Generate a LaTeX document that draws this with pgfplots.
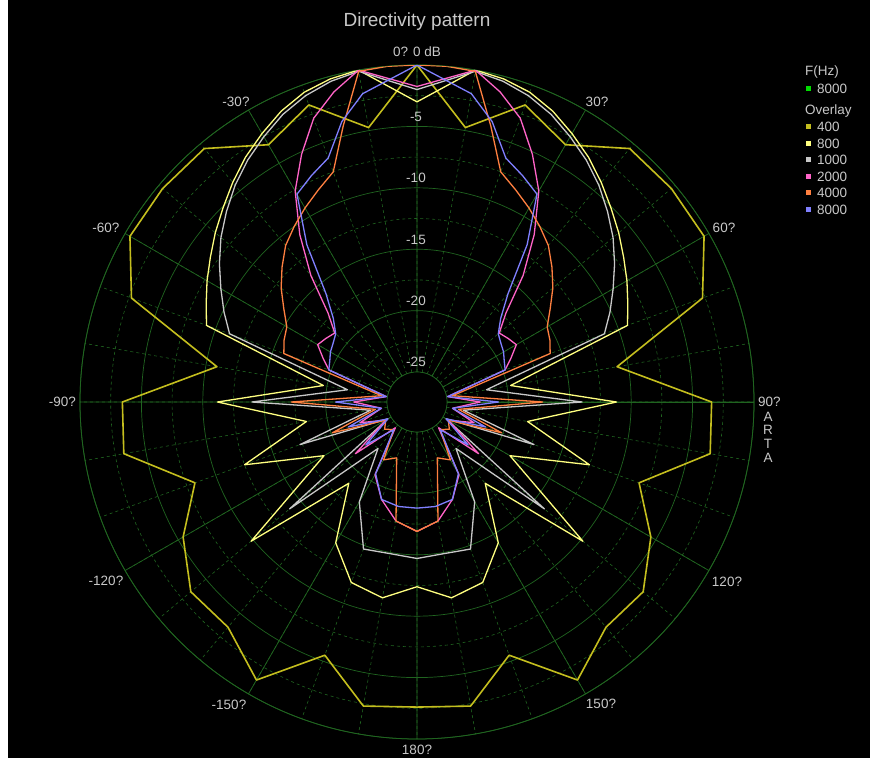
\documentclass[border=0pt]{standalone}
\usepackage{pgfplots}
\pgfplotsset{compat=1.18}
\usepackage{pgfplotstable}
\usepgfplotslibrary{polar}
\usepackage{fontspec}
\setmainfont{Liberation Sans}

\definecolor{gridgreen}{RGB}{32,100,32}
\definecolor{txtgray}{RGB}{200,200,200}
\definecolor{c400}{RGB}{196,190,30}
\definecolor{c800}{RGB}{255,255,128}
\definecolor{c1000}{RGB}{200,200,200}
\definecolor{c2000}{RGB}{255,100,200}
\definecolor{c4000}{RGB}{255,128,64}
\definecolor{c8000}{RGB}{128,128,255}
\definecolor{cnow}{RGB}{0,220,0}

% one half of each pattern (angle 0..180 deg, level in dB); drawn mirrored
\pgfplotstableread{
ang db
0   0
10  -4.75
20  -1.7
30  -3.25
40  -0.5
50  -0.4
60  -0.45
70  -2.7
80  -10.9
90  -3.45
100 -3.2
110 -8.2
120 -5.45
130 -3.4
140 -3.5
150 -1.3
160 -5.5
170 -2.3
180 -2.6
}\fA
\pgfplotstableread{
ang db
0   -3.0
10  0
15  -0.2
20  -0.6
25  -1.3
30  -2.2
35  -3.1
40  -4.1
45  -5.1
50  -6.0
55  -6.9
60  -7.7
65  -8.5
70  -9.2
80  -19.7
90  -11.2
100 -18.3
110 -12.5
120 -18.7
130 -9.8
140 -18.8
150 -14.2
160 -11.8
170 -11.25
180 -12.4
}\fB
\pgfplotstableread{
ang db
0   -2.0
10  -0.1
15  -0.4
20  -0.9
25  -1.6
30  -2.5
35  -3.4
40  -4.4
45  -5.5
50  -6.6
55  -7.8
60  -9.0
65  -10.1
70  -11.2
80  -21.7
90  -14.0
100 -23.6
110 -17.3
120 -24.7
130 -13.9
140 -22.5
150 -18.05
160 -14.7
170 -14.9
180 -14.7
}\fC
\pgfplotstableread{
ang db
0   -1.75
10  0
15  -1.3
20  -2.85
25  -5.2
30  -7.6
35  -10.8
40  -14.0
45  -17.2
50  -18.7
55  -18.4
60  -18.1
65  -19.0
70  -19.8
80  -24.9
90  -22.3
100 -24.5
110 -22.5
120 -24.5
130 -20.9
140 -24.7
150 -20.6
160 -19.0
170 -17.6
180 -16.9
}\fD
\pgfplotstableread{
ang db
0   0
5   0
10  -0.1
15  -4.2
20  -7.5
25  -8.4
30  -9.2
35  -10.0
40  -10.8
45  -11.9
50  -13.0
55  -14.2
60  -15.2
65  -15.5
70  -15.9
80  -24.5
90  -17.2
100 -24.0
110 -20.1
120 -24.5
130 -24.0
140 -24.5
150 -22.0
160 -22.6
170 -17.6
180 -16.9
}\fE
\pgfplotstableread{
ang db
0   0
10  -1.95
15  -3.8
20  -6.3
25  -7.1
30  -7.9
35  -11.8
40  -15.9
45  -17.8
50  -18.8
55  -19.1
60  -19.3
65  -19.6
70  -19.8
80  -24.9
90  -20.8
100 -24.5
110 -21.5
120 -24.7
130 -22.0
140 -24.5
150 -20.7
160 -19.0
170 -18.8
180 -18.8
}\fF

\pgfplotsset{
  rside/.style={x filter/.expression={mod(450-x,360)}},
  lside/.style={x filter/.expression={mod(450+x,360)}},
}
\newcommand{\both}[2]{%
  \addplot[#1, rside] table[x=ang, y=db] {#2};
  \addplot[#1, lside] table[x=ang, y=db] {#2};
}

\begin{document}
\begin{tikzpicture}
\path[use as bounding box] (0,0) rectangle (870pt,758pt);
\fill[white] (0,0) rectangle (870pt,758pt);
\fill[black] (8pt,0) rectangle (870pt,758pt);

\begin{polaraxis}[
    at={(417pt,356pt)}, anchor=center,
    scale only axis, width=674pt, height=674pt,
    xmin=0, xmax=360, ymin=0, ymax=27.44,
    xtick={0,30,...,330}, minor xtick={0,10,...,350},
    ytick={2.44,7.44,12.44,17.44,22.44,27.44},
    minor ytick={4.94,9.94,14.94,19.94,24.94},
    xticklabels={}, yticklabels={},
    major tick length=0pt, minor tick length=0pt,
    grid=both,
    major grid style={gridgreen, line width=0.7pt},
    minor grid style={gridgreen, dashed, line width=0.6pt},
    axis line style={gridgreen, line width=0.8pt},
    y filter/.expression={y+27.44},
    every axis plot/.append style={line join=round},
]
\both{c400, line width=1.6pt}{\fA}
\both{c800, line width=1.3pt}{\fB}
\both{c1000, line width=1.3pt}{\fC}
\both{c2000, line width=1.3pt}{\fD}
\both{c4000, line width=1.3pt}{\fE}
\both{c8000, line width=1.3pt}{\fF}
\end{polaraxis}

% centre hole at -25 dB
\filldraw[fill=black, draw=gridgreen, line width=0.7pt] (417pt,356pt) circle (30pt);

\begin{scope}[every node/.style={text=txtgray, font=\fontsize{13.5}{15}\selectfont, inner sep=0pt}]
\node at (417pt,706pt) {0? 0 dB};
\node at (597pt,656pt) {30?};
\node at (724pt,530pt) {60?};
\node[anchor=west] at (758pt,356pt) {90?};
\node at (727pt,176pt) {120?};
\node at (601pt,54pt) {150?};
\node at (417pt,8pt) {180?};
\node at (229pt,53pt) {-150?};
\node at (106pt,177pt) {-120?};
\node[anchor=east] at (76pt,356pt) {-90?};
\node at (106pt,530pt) {-60?};
\node at (236pt,656pt) {-30?};
\node at (416pt,641pt) {-5};
\node at (416pt,580pt) {-10};
\node at (416pt,518pt) {-15};
\node at (416pt,457pt) {-20};
\node at (416pt,396pt) {-25};
\node at (768pt,341pt) {A};
\node at (768pt,328pt) {R};
\node at (768pt,314pt) {T};
\node at (768pt,300pt) {A};
% legend
\node[anchor=west] at (805pt,686pt) {F(Hz)};
\node[anchor=west] at (817pt,669pt) {8000};
\node[anchor=west] at (805pt,647pt) {Overlay};
\node[anchor=west] at (817pt,631pt) {400};
\node[anchor=west] at (817pt,614pt) {800};
\node[anchor=west] at (817pt,598pt) {1000};
\node[anchor=west] at (817pt,581pt) {2000};
\node[anchor=west] at (817pt,565pt) {4000};
\node[anchor=west] at (817pt,548pt) {8000};
\end{scope}
\fill[cnow]  (806pt,666.5pt) rectangle ++(5pt,5pt);
\fill[c400]  (806pt,628.5pt) rectangle ++(5pt,5pt);
\fill[c800]  (806pt,611.5pt) rectangle ++(5pt,5pt);
\fill[c1000] (806pt,595.5pt) rectangle ++(5pt,5pt);
\fill[c2000] (806pt,578.5pt) rectangle ++(5pt,5pt);
\fill[c4000] (806pt,562.5pt) rectangle ++(5pt,5pt);
\fill[c8000] (806pt,545.5pt) rectangle ++(5pt,5pt);

\node[text=txtgray, font=\fontsize{19}{22}\selectfont, inner sep=0pt] at (417pt,736pt) {Directivity pattern};
\end{tikzpicture}
\end{document}
